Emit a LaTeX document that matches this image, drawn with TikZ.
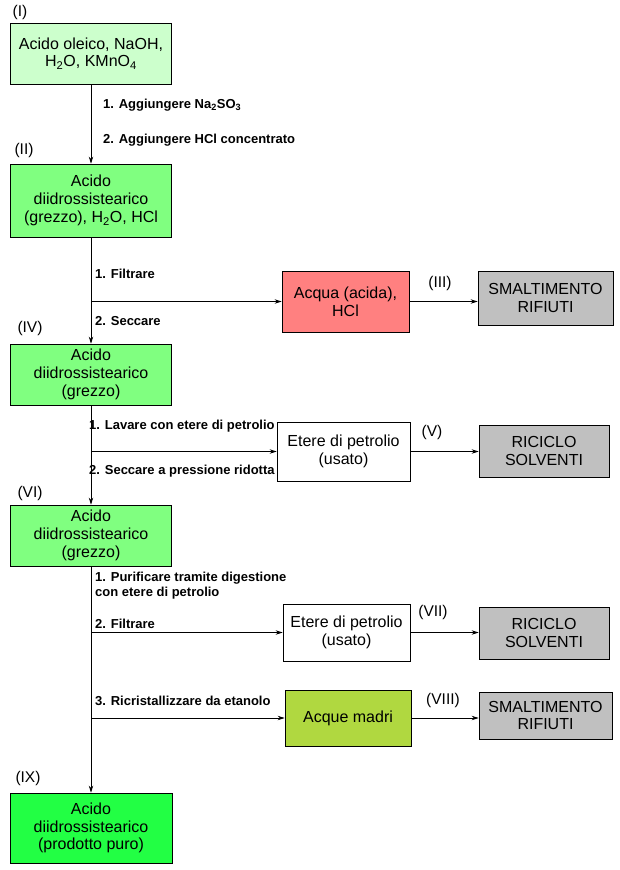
\documentclass[tikz,border=0pt]{standalone}
\usepackage{fontspec}
\setmainfont{Liberation Sans}
\usetikzlibrary{arrows.meta}

\definecolor{startgreen}{HTML}{CCFFCC}
\definecolor{midgreen}{HTML}{80FF80}
\definecolor{endgreen}{HTML}{22FF44}
\definecolor{acidred}{HTML}{FF8080}
\definecolor{motherlq}{HTML}{B0D840}
\definecolor{wastegray}{HTML}{C0C0C0}

\tikzset{
  box/.style={draw=black, line width=.8pt, align=center, inner sep=2pt,
    font=\fontsize{16}{17.8}\selectfont},
  steplabel/.style={anchor=west, align=left, inner sep=0pt,
    font=\fontsize{13}{15}\selectfont\bfseries},
  roman/.style={inner sep=0pt, font=\fontsize{15.5}{17}\selectfont},
  arr/.style={-{Stealth[length=7pt,width=4.5pt]}, line width=.8pt}
}

\begin{document}
\begin{tikzpicture}[x=1pt,y=-1pt]
        \useasboundingbox[fill=white] (0,0) rectangle (620,870);

        % Main column
        \node[box, fill=startgreen, minimum width=161, minimum height=61] (b1) at (91,53.5)
            {Acido oleico, NaOH,\\H\textsubscript{2}O, KMnO\textsubscript{4}};
        \node[box, fill=midgreen, minimum width=161, minimum height=73] (b2) at (91,200.5)
            {Acido\\diidrossistearico\\(grezzo), H\textsubscript{2}O, HCl};
        \node[box, fill=midgreen, minimum width=161, minimum height=61] (b4) at (91,374.5)
            {Acido\\diidrossistearico\\(grezzo)};
        \node[box, fill=midgreen, minimum width=161, minimum height=61] (b6) at (91,535.5)
            {Acido\\diidrossistearico\\(grezzo)};
        \node[box, fill=endgreen, minimum width=162, minimum height=70] (b9) at (91,828)
            {Acido\\diidrossistearico\\(prodotto puro)};

        % Side streams
        \node[box, fill=acidred, minimum width=127, minimum height=61] (b3) at (345.5,301.5)
            {Acqua (acida),\\HCl};
        \node[box, fill=white, minimum width=133, minimum height=59] (b5) at (343.5,451.5)
            {Etere di petrolio\\(usato)};
        \node[box, fill=white, minimum width=127, minimum height=57] (b7) at (346.5,632.5)
            {Etere di petrolio\\(usato)};
        \node[box, fill=motherlq, minimum width=126, minimum height=56] (b8) at (348,718)
            {Acque madri};

        % Final destinations
        \node[box, fill=wastegray, minimum width=135, minimum height=54] (w1) at (545.5,298)
            {SMALTIMENTO\\RIFIUTI};
        \node[box, fill=wastegray, minimum width=130, minimum height=52] (r1) at (544,451)
            {RICICLO\\SOLVENTI};
        \node[box, fill=wastegray, minimum width=130, minimum height=52] (r2) at (544,633)
            {RICICLO\\SOLVENTI};
        \node[box, fill=wastegray, minimum width=133, minimum height=47] (w2) at (545.5,715.5)
            {SMALTIMENTO\\RIFIUTI};

        % Roman numerals
        \node[roman] (n1) at (20,12) {(I)};
        \node[roman] (n2) at (24,150) {(II)};
        \node[roman] (n3) at (440,283) {(III)};
        \node[roman] (n4) at (30,328) {(IV)};
        \node[roman] (n5) at (432,432) {(V)};
        \node[roman] (n6) at (30,493) {(VI)};
        \node[roman] (n7) at (433,612) {(VII)};
        \node[roman] (n8) at (443,700) {(VIII)};
        \node[roman] (n9) at (28,778) {(IX)};

        % Arrows
        \draw[arr] (b1) -- (b2);
        \draw[arr] (b2) -- (b4);
        \draw[arr] (b4) -- (b6);
        \draw[arr] (b6) -- (b9);
        \draw[arr] (b2.south |- b3.west) -- (b3.west);
        \draw[arr] (b4.south |- b5.west) -- (b5.west);
        \draw[arr] (b6.south |- b7.west) -- (b7.west);
        \draw[arr] (b6.south |- b8.west) -- (b8.west);
        \draw[arr] (b3.east) -- (b3.east -| w1.west);
        \draw[arr] (b5.east) -- (b5.east -| r1.west);
        \draw[arr] (b7.east) -- (b7.east -| r2.west);
        \draw[arr] (b8.east) -- (b8.east -| w2.west);

        % Step labels
        \node[steplabel] (s1a) at (103,105) {1. Aggiungere Na\textsubscript{2}SO\textsubscript{3}};
        \node[steplabel] (s1b) at (103,140) {2. Aggiungere HCl concentrato};
        \node[steplabel] (s2a) at (95,274) {1. Filtrare};
        \node[steplabel] (s2b) at (95,321) {2. Seccare};
        \node[steplabel] (s3a) at (89,426) {1. Lavare con etere di petrolio};
        \node[steplabel] (s3b) at (89,471) {2. Seccare a pressione ridotta};
        \node[steplabel] (s4a) at (95,585.5) {1. Purificare tramite digestione\\con etere di petrolio};
        \node[steplabel] (s4b) at (95,624) {2. Filtrare};
        \node[steplabel] (s4c) at (95,701) {3. Ricristallizzare da etanolo};
    \end{tikzpicture}
\end{document}
